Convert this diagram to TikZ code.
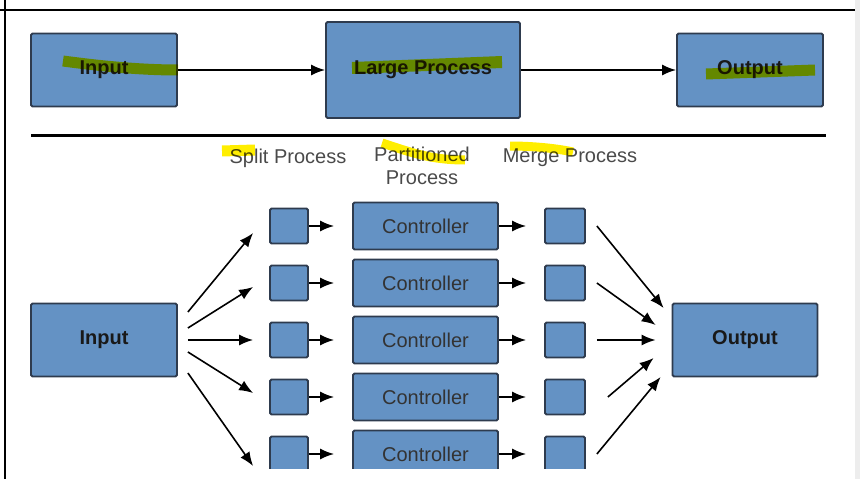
\documentclass[tikz,border=0pt]{standalone}
\usepackage{fontspec}
\setmainfont{Liberation Sans}
\usetikzlibrary{arrows.meta}

\definecolor{boxblau}{HTML}{6492C4}
\definecolor{rahmen}{HTML}{2E3B4E}
\definecolor{schrift}{HTML}{4A4A4A}
\definecolor{marker}{HTML}{FFEE00}

\tikzset{
    kasten/.style={draw=rahmen, fill=boxblau, line width=1.8pt, rounded corners=1.5pt, inner sep=0pt},
    gross/.style={kasten, minimum width=146pt, minimum height=73pt, font=\fontsize{20}{24}\selectfont\bfseries, text=black!90},
    ctrl/.style={kasten, minimum width=145pt, minimum height=47pt, font=\fontsize{20}{24}\selectfont, text=black!80},
    quad/.style={kasten, minimum width=38pt, minimum height=35pt},
    pfeil/.style={-{Latex[length=14pt,width=11pt]}, line width=1.6pt},
    beschr/.style={font=\fontsize{20}{23}\selectfont, text=schrift, align=center},
    markieren/.style={draw=marker, line width=11pt}
}

\begin{document}
\begin{tikzpicture}[x=1pt, y=-1pt]
        \useasboundingbox (0,0) rectangle (860,479);

        % zeichne Rahmen
        \fill[black!7] (855,0) rectangle (860,479);
        \draw[line width=2pt] (0,10) -- (855,10);
        \draw[line width=2pt] (5,0) -- (5,479);

        % oberer Teil
        \node[gross] (tin) at (104,70) {Input};
        \node[gross, minimum width=194pt, minimum height=96pt] (gp) at (423,70) {Large Process};
        \node[gross] (tout) at (750,70) {Output};
        \draw[pfeil] (tin) -- (gp);
        \draw[pfeil] (gp) -- (tout);

        % Trennlinie
        \draw[line width=3pt] (31,135) -- (826,135);

        % Beschriftungen
        \node[beschr] (lsplit) at (288,158) {Split Process};
        \node[beschr] (lpart) at (422,166) {Partitioned\\Process};
        \node[beschr] (lmerge) at (570,158) {Merge Process};

        % unterer Teil
        \begin{scope}
            \clip (0,0) rectangle (860,468);
            \node[gross] (in) at (104,340) {Input};
            \node[gross, minimum width=145pt] (out) at (745,340) {Output};
            \foreach \i in {1,...,5} {
                \pgfmathsetmacro\ypos{226+57*(\i-1)}
                \node[quad] (sp\i) at (289,\ypos) {};
                \node[ctrl] (c\i) at (425.5,\ypos) {Controller};
                \node[quad, minimum width=40pt] (m\i) at (565,\ypos) {};
                \draw[pfeil, shorten >=18pt] (sp\i) -- (c\i);
                \draw[pfeil, shorten >=18pt] (c\i) -- (m\i);
            }
            % Aufteilen
            \foreach \i/\ya/\ye in {1/-28/7, 2/-12/4, 3/0/0, 4/12/-4, 5/33/12}
                \draw[pfeil] ([shift={(10,\ya)}]in.east) -- ([shift={(-16,\ye)}]sp\i.west);
            % Zusammenfuehren
            \foreach \i/\xa/\xe/\ye in {1/11/-8/-32, 2/11/-16/-15, 3/11/-16/0, 4/22/-18/18, 5/11/-11/37}
                \draw[pfeil] ([xshift=\xa]m\i.east) -- ([shift={(\xe,\ye)}]out.west);
        \end{scope}

        % Textmarker
        \begin{scope}[blend mode=multiply]
            \draw[markieren] (63,61) .. controls (100,66) and (140,70) .. (178,70);
            \draw[markieren, line width=12pt] (352,68) -- (502,62);
            \draw[markieren] (706,74) -- (815,70);
            \draw[markieren] (222,151) -- (255,150);
            \draw[markieren, line width=9pt] (382,143) .. controls (410,152) and (430,160) .. (465,160);
            \draw[markieren, line width=9pt] (510,146) .. controls (530,146) and (555,148) .. (573,152);
        \end{scope}
\end{tikzpicture}
\end{document}
